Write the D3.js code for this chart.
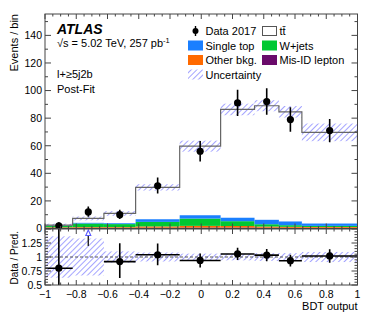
<!DOCTYPE html>
<html>
<head>
<meta charset="utf-8">
<script src="https://cdn.jsdelivr.net/npm/d3@7"></script>
<style>
  body { margin: 0; background: #fff; }
  svg text { font-family: "Liberation Sans", Arial, Helvetica, sans-serif; fill: #000; }
</style>
</head>
<body>
<div id="chart"></div>
<script>
// bin edges in BDT output
var binEdges = [-1, -0.823, -0.623, -0.42, -0.138, 0.124, 0.341, 0.497, 0.644, 1];

// stacked predictions (bottom to top)
var misID     = [0.5, 0.5, 0.5, 0.6, 0.7, 0.7, 0.6, 0.5, 0.5];
var otherBkg  = [0.4, 0.5, 0.5, 0.9, 1.2, 1.1, 0.8, 0.7, 0.6];
var wjets     = [1.2, 2.6, 2.2, 3.3, 5.3, 3.5, 1.7, 1.2, 0.8];
var singleTop = [0.1, 0.5, 0.6, 1.9, 2.4, 2.5, 3.2, 2.7, 1.7];
var ttbar     = [0.3, 3.2, 7.1, 23.1, 50.1, 78.5, 82.7, 79.5, 66.1];

// uncertainty on total prediction (main panel) and relative (ratio panel)
var predUnc  = [1.0, 1.4, 1.7, 2.3, 4.0, 4.2, 4.0, 4.2, 6.4];
var ratioUnc = [0.37, 0.33, 0.10, 0.08, 0.06, 0.06, 0.07, 0.07, 0.09];

// data
var data2017    = [2, 12, 10, 31, 56, 91, 92, 79, 71];
var dataErrUp   = [2.6, 3.9, 3.6, 6.0, 7.5, 9.5, 9.6, 8.9, 8.4];
var dataErrDown = [1.4, 3.5, 3.2, 5.6, 7.5, 9.5, 9.6, 8.9, 8.4];

var xTicks = [-1, -0.8, -0.6, -0.4, -0.2, 0, 0.2, 0.4, 0.6, 0.8, 1];
var yTicks = [0, 20, 40, 60, 80, 100, 120, 140];
var rTicks = [0.5, 0.75, 1, 1.25];

var width = 374, height = 318;
var L = 45, R = 357.5, T = 14, MB = 228.5, RB = 285;

var svg = d3.select("#chart").append("svg").attr("width", width).attr("height", height);

var x = d3.scaleLinear().domain([-1, 1]).range([L, R]);
var y = d3.scaleLinear().domain([0, 155.5]).range([MB, T]);
var yr = d3.scaleLinear().domain([0.5, 1.5]).range([RB, MB + 0.5]);

var comps = [
  {name: "misID", vals: misID, color: "#6a0a6a"},
  {name: "other", vals: otherBkg, color: "#ff6a00"},
  {name: "wjets", vals: wjets, color: "#00c832"},
  {name: "stop", vals: singleTop, color: "#1a7fff"},
  {name: "ttbar", vals: ttbar, color: "#ffffff"}
];

var bins = d3.range(binEdges.length - 1).map(function(i) {
  var b = {i: i, x0: binEdges[i], x1: binEdges[i + 1]};
  var cum = 0;
  b.layers = comps.map(function(c) {
    var l = {name: c.name, color: c.color, y0: cum, y1: cum + c.vals[i]};
    cum += c.vals[i];
    return l;
  });
  b.total = cum;
  b.data = data2017[i];
  b.ratio = data2017[i] / cum;
  return b;
});

// hatch pattern
var defs = svg.append("defs");
var pat = defs.append("pattern").attr("id", "hatch")
  .attr("patternUnits", "userSpaceOnUse").attr("width", 4).attr("height", 4)
  .attr("patternTransform", "rotate(45)");
pat.append("line").attr("x1", 0).attr("y1", 0).attr("x2", 0).attr("y2", 4)
  .attr("stroke", "#6464ff").attr("stroke-width", 1.4).attr("stroke-opacity", 0.85);

defs.append("clipPath").attr("id", "clipMain").append("rect")
  .attr("x", L).attr("y", T).attr("width", R - L).attr("height", MB - T);
defs.append("clipPath").attr("id", "clipRatio").append("rect")
  .attr("x", L).attr("y", MB + 0.5).attr("width", R - L).attr("height", RB - MB - 0.5);

// ---- main panel ----
var main = svg.append("g").attr("clip-path", "url(#clipMain)");

bins.forEach(function(b) {
  main.selectAll(null).data(b.layers.filter(function(l) { return l.name != "ttbar"; }))
    .enter().append("rect")
      .attr("x", x(b.x0)).attr("width", x(b.x1) - x(b.x0))
      .attr("y", function(l) { return y(l.y1); })
      .attr("height", function(l) { return y(l.y0) - y(l.y1); })
      .style("fill", function(l) { return l.color; });
});

// uncertainty band
main.selectAll(".band").data(bins).enter().append("rect")
  .attr("class", "band")
  .attr("x", function(d) { return x(d.x0); })
  .attr("width", function(d) { return x(d.x1) - x(d.x0); })
  .attr("y", function(d) { return y(d.total + predUnc[d.i]); })
  .attr("height", function(d) { return y(d.total - predUnc[d.i]) - y(d.total + predUnc[d.i]); })
  .style("fill", "url(#hatch)");

// ttbar outline (step)
var step = "M" + x(bins[0].x0) + "," + y(bins[0].layers[3].y1);
bins.forEach(function(b) {
  step += "L" + x(b.x0) + "," + y(b.total) + "L" + x(b.x1) + "," + y(b.total);
});
step += "L" + x(bins[bins.length - 1].x1) + "," + y(bins[bins.length - 1].layers[3].y1);
main.append("path").attr("d", step).style("fill", "none").style("stroke", "#666").style("stroke-width", 1.2);

// data
main.selectAll(".derr").data(bins).enter().append("line")
  .attr("x1", function(d) { return x((d.x0 + d.x1) / 2); })
  .attr("x2", function(d) { return x((d.x0 + d.x1) / 2); })
  .attr("y1", function(d) { return y(d.data + dataErrUp[d.i]); })
  .attr("y2", function(d) { return y(d.data - dataErrDown[d.i]); })
  .style("stroke", "#000").style("stroke-width", 1.6);
main.selectAll(".dpt").data(bins).enter().append("circle")
  .attr("cx", function(d) { return x((d.x0 + d.x1) / 2); })
  .attr("cy", function(d) { return y(d.data); })
  .attr("r", 3.6).style("fill", "#000");

// ---- ratio panel ----
var rat = svg.append("g").attr("clip-path", "url(#clipRatio)");

rat.selectAll(".rband").data(bins).enter().append("rect")
  .attr("x", function(d) { return x(d.x0); })
  .attr("width", function(d) { return x(d.x1) - x(d.x0); })
  .attr("y", function(d) { return yr(1 + ratioUnc[d.i]); })
  .attr("height", function(d) { return yr(1 - ratioUnc[d.i]) - yr(1 + ratioUnc[d.i]); })
  .style("fill", "url(#hatch)");

rat.append("line").attr("x1", L).attr("x2", R).attr("y1", yr(1)).attr("y2", yr(1))
  .style("stroke", "#555").style("stroke-width", 1).style("stroke-dasharray", "3,2");

var inRange = bins.filter(function(d) { return d.ratio <= 1.5; });
var above = bins.filter(function(d) { return d.ratio > 1.5; });

rat.selectAll(".rx").data(inRange).enter().append("line")
  .attr("x1", function(d) { return x(d.x0); })
  .attr("x2", function(d) { return x(d.x1); })
  .attr("y1", function(d) { return yr(d.ratio); })
  .attr("y2", function(d) { return yr(d.ratio); })
  .style("stroke", "#000").style("stroke-width", 1.6);
rat.selectAll(".ry").data(inRange).enter().append("line")
  .attr("x1", function(d) { return x((d.x0 + d.x1) / 2); })
  .attr("x2", function(d) { return x((d.x0 + d.x1) / 2); })
  .attr("y1", function(d) { return yr((d.data + dataErrUp[d.i]) / d.total); })
  .attr("y2", function(d) { return yr((d.data - dataErrDown[d.i]) / d.total); })
  .style("stroke", "#000").style("stroke-width", 1.6);
rat.selectAll(".rpt").data(inRange).enter().append("circle")
  .attr("cx", function(d) { return x((d.x0 + d.x1) / 2); })
  .attr("cy", function(d) { return yr(d.ratio); })
  .attr("r", 3.6).style("fill", "#000");

// off-scale arrows
above.forEach(function(d) {
  var cx = x((d.x0 + d.x1) / 2), ty = yr(1.5);
  rat.append("line").attr("x1", cx).attr("x2", cx).attr("y1", ty + 6).attr("y2", ty + 17)
    .style("stroke", "#222").style("stroke-width", 1.4);
  rat.append("path").attr("d", "M" + (cx - 2.5) + "," + (ty + 6.5) + "L" + cx + "," + (ty + 1) + "L" + (cx + 2.5) + "," + (ty + 6.5) + "Z")
    .style("fill", "#fff").style("stroke", "#5a5aff").style("stroke-width", 1.1);
});

// ---- frames and ticks ----
function frame(y0, y1) {
  svg.append("rect").attr("x", L).attr("y", y0).attr("width", R - L).attr("height", y1 - y0)
    .style("fill", "none").style("stroke", "#444").style("stroke-width", 1);
}
frame(T, MB);
frame(MB + 0.5, RB);

var tickG = svg.append("g").style("stroke", "#444").style("stroke-width", 1);
function xTickMarks(yTop, yBot, lenMaj, lenMin) {
  d3.range(-1, 1.0001, 0.05).forEach(function(v) {
    var major = Math.abs(v / 0.2 - Math.round(v / 0.2)) < 1e-6;
    var len = major ? lenMaj : lenMin;
    tickG.append("line").attr("x1", x(v)).attr("x2", x(v)).attr("y1", yBot).attr("y2", yBot - len);
    tickG.append("line").attr("x1", x(v)).attr("x2", x(v)).attr("y1", yTop).attr("y2", yTop + len);
  });
}
xTickMarks(T, MB, 5, 2.5);
xTickMarks(MB + 0.5, RB, 5, 2.5);

d3.range(0, 155, 10).forEach(function(v) {
  var len = v % 20 == 0 ? 6 : 3;
  tickG.append("line").attr("x1", L).attr("x2", L + len).attr("y1", y(v)).attr("y2", y(v));
  tickG.append("line").attr("x1", R).attr("x2", R - len).attr("y1", y(v)).attr("y2", y(v));
});
d3.range(0.5, 1.5001, 0.05).forEach(function(v) {
  var major = Math.abs(v / 0.25 - Math.round(v / 0.25)) < 1e-6;
  var len = major ? 6 : 3;
  tickG.append("line").attr("x1", L).attr("x2", L + len).attr("y1", yr(v)).attr("y2", yr(v));
  tickG.append("line").attr("x1", R).attr("x2", R - len).attr("y1", yr(v)).attr("y2", yr(v));
});

var fmtMinus = function(s) { return s.replace("-", "\u2212"); };

svg.selectAll(".ylab").data(yTicks).enter().append("text")
  .attr("x", L - 3).attr("y", function(d) { return y(d) + 3.8; })
  .attr("text-anchor", "end").style("font-size", "10.5px").text(function(d) { return d; });
svg.selectAll(".rlab").data(rTicks).enter().append("text")
  .attr("x", L - 3).attr("y", function(d) { return yr(d) + 3.6; })
  .attr("text-anchor", "end").style("font-size", "10.5px").text(function(d) { return d; });
svg.selectAll(".xlab").data(xTicks).enter().append("text")
  .attr("x", function(d) { return x(d); }).attr("y", 298)
  .attr("text-anchor", "middle").style("font-size", "10.5px")
  .text(function(d) { return fmtMinus(String(d)); });

svg.append("text").attr("x", R).attr("y", 310).attr("text-anchor", "end")
  .style("font-size", "11px").text("BDT output");
svg.append("text").attr("transform", "translate(18," + T + ") rotate(-90)")
  .attr("text-anchor", "end").style("font-size", "11px").text("Events / bin");
svg.append("text").attr("transform", "translate(18," + ((MB + RB) / 2 + 1) + ") rotate(-90)")
  .attr("text-anchor", "middle").style("font-size", "10px").text("Data / Pred.");

// ---- labels ----
svg.append("text").attr("x", 57).attr("y", 34).style("font-size", "14px")
  .style("font-weight", "bold").style("font-style", "italic").text("ATLAS");
var lumi = svg.append("text").attr("x", 57).attr("y", 46.5).style("font-size", "11px");
lumi.append("tspan").text("\u221As = 5.02 TeV, 257 pb");
lumi.append("tspan").attr("dy", -4).style("font-size", "7.5px").text("-1");
svg.append("text").attr("x", 57).attr("y", 78).style("font-size", "11px").text("l+\u22655j2b");
svg.append("text").attr("x", 57).attr("y", 92.5).style("font-size", "11px").text("Post-Fit");

// ---- legend ----
var leg = svg.append("g");
var legItems = [
  {label: "Data 2017", type: "data", col: 0, row: 0},
  {label: "t\u0074\u0304", type: "box", fill: "#fff", stroke: "#555", col: 1, row: 0},
  {label: "Single top", type: "box", fill: "#1a7fff", col: 0, row: 1},
  {label: "W+jets", type: "box", fill: "#00c832", col: 1, row: 1},
  {label: "Other bkg.", type: "box", fill: "#ff6a00", col: 0, row: 2},
  {label: "Mis-ID lepton", type: "box", fill: "#6a0a6a", col: 1, row: 2},
  {label: "Uncertainty", type: "hatch", col: 0, row: 3}
];
var colX = [188, 262], rowY = [31, 45.5, 60, 74.5];
legItems.forEach(function(it) {
  var bx = colX[it.col], cy = rowY[it.row];
  if (it.type == "data") {
    leg.append("line").attr("x1", bx + 7.5).attr("x2", bx + 7.5).attr("y1", cy - 5).attr("y2", cy + 5)
      .style("stroke", "#000").style("stroke-width", 1.4);
    leg.append("circle").attr("cx", bx + 7.5).attr("cy", cy).attr("r", 3).style("fill", "#000");
  } else if (it.type == "hatch") {
    leg.append("rect").attr("x", bx).attr("y", cy - 5).attr("width", 15).attr("height", 10)
      .style("fill", "url(#hatch)");
  } else {
    leg.append("rect").attr("x", bx + (it.stroke ? 0.5 : 0)).attr("y", cy - 5 + (it.stroke ? 0.5 : 0))
      .attr("width", it.stroke ? 14 : 15).attr("height", it.stroke ? 9 : 10)
      .style("fill", it.fill).style("stroke", it.stroke || "none");
  }
  leg.append("text").attr("x", bx + 17.5).attr("y", cy + 4).style("font-size", "11px").text(it.label);
});
</script>
</body>
</html>
